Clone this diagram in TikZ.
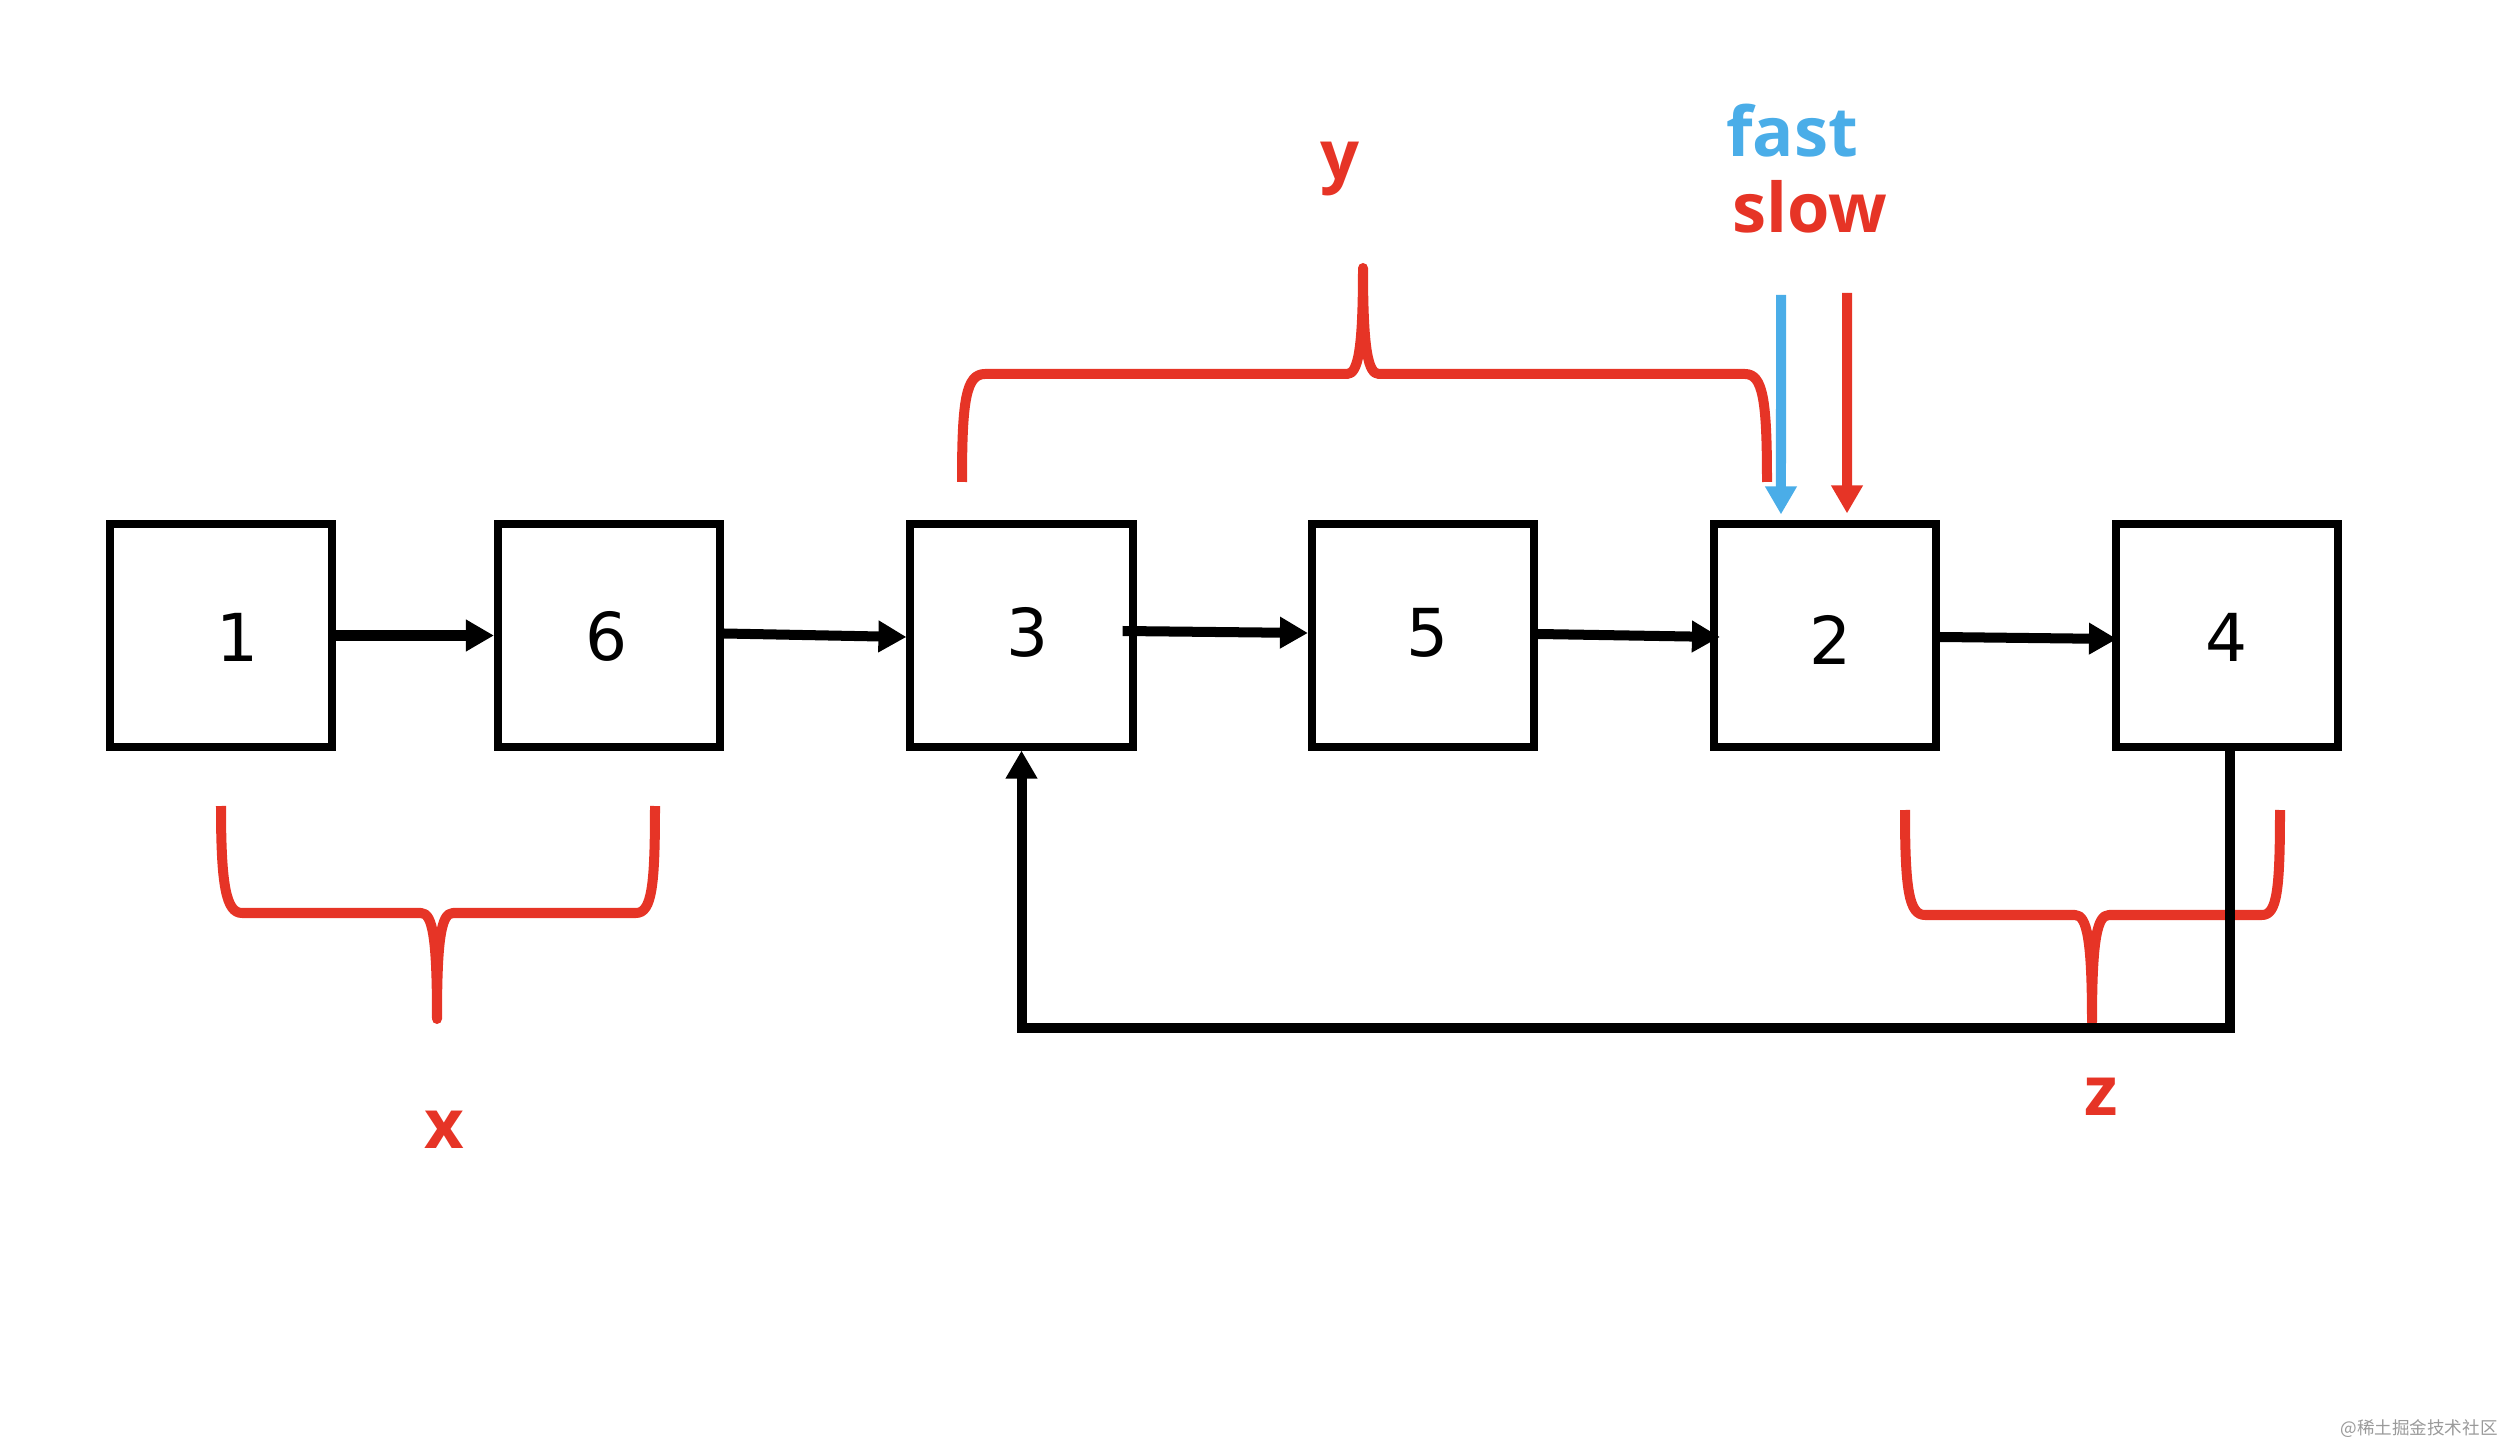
\documentclass[tikz,border=0pt]{standalone}
\usepackage{fontspec}
\setmainfont{DejaVu Sans}
\newfontfamily\labfont{Open Sans}[BoldFont={Open Sans Bold}]
\newfontfamily\cjkfont{Noto Sans CJK SC}
\usetikzlibrary{arrows.meta}
\definecolor{bred}{HTML}{E63426}
\definecolor{bblue}{HTML}{4AADE8}
\definecolor{wmgray}{HTML}{9A9A9A}
\begin{document}
\begin{tikzpicture}[x=0.01cm,y=-0.01cm,
  listbox/.style={draw=black, line width=0.08cm, minimum width=2.22cm, minimum height=2.22cm, inner sep=0pt},
  digit/.style={font=\fontsize{18.8}{20}\selectfont, inner sep=0pt},
  arr/.style={line width=0.1cm, -{Triangle[length=0.28cm,width=0.30cm]}},
  brace/.style={draw=bred, line width=0.1cm, line cap=butt, line join=round},
  lab/.style={font=\labfont\bfseries\fontsize{19.5}{21}\selectfont, inner sep=0pt, anchor=base}
]
\useasboundingbox (0,0) rectangle (2505,1446);

% boxes
\node[listbox] (b1) at (221,635.5) {};
\node[listbox] (b6) at (609,635.5) {};
\node[listbox] (b3) at (1021.5,635.5) {};
\node[listbox] (b5) at (1423,635.5) {};
\node[listbox] (b2) at (1825,635.5) {};
\node[listbox] (b4) at (2227,635.5) {};

% digits
\node[digit] (t1) at (238,637) {1};
\node[digit] (t6) at (607,636) {6};
\node[digit] (t3) at (1028,632) {3};
\node[digit] (t5) at (1428,633) {5};
\node[digit] (t2) at (1831,640) {2};
\node[digit] (t4) at (2227,637) {4};

% braces
\draw[brace] (221,806) .. controls (221,885) and (226,913) .. (242,913)
  -- (421,913) .. controls (433,913) and (437,940) .. (437,1019)
  .. controls (437,940) and (441,913) .. (453,913)
  -- (636,913) .. controls (652,913) and (655,885) .. (655,806);
\draw[brace] (962,482) .. controls (962,400) and (966,374) .. (985,374)
  -- (1347,374) .. controls (1358,374) and (1363,350) .. (1363,268)
  .. controls (1363,350) and (1368,374) .. (1379,374)
  -- (1745,374) .. controls (1763,374) and (1767,400) .. (1767,482);
\draw[brace] (1905,810) .. controls (1905,890) and (1909,915) .. (1925,915)
  -- (2075,915) .. controls (2087,915) and (2092,940) .. (2092,1022)
  .. controls (2092,940) and (2097,915) .. (2109,915)
  -- (2262,915) .. controls (2277,915) and (2280,890) .. (2280,810);

% list arrows
\draw[arr] (b1.east) -- (b6.west);
\draw[arr] ([yshift=0.02cm]b6.east) -- ([yshift=-0.015cm]b3.west);
\draw[arr] ([xshift=-0.14cm,yshift=0.045cm]b3.east) -- ([yshift=0.025cm]b5.west);
\draw[arr] ([yshift=0.015cm]b5.east) -- ([xshift=0.1cm,yshift=-0.015cm]b2.west);
\draw[arr] ([yshift=-0.015cm]b2.east) -- ([xshift=0.05cm,yshift=-0.035cm]b4.west);

% feedback loop
\coordinate (fb) at (0,1028);
\draw[arr, line join=miter] ([xshift=0.03cm]b4.south) -- ([xshift=0.03cm]b4.south |- fb) -| (b3.south);

% pointers
\coordinate (fastA) at (1781,295);
\coordinate (slowA) at (1847,293);
\draw[arr, draw=bblue, fill=bblue] (fastA) -- ([xshift=-0.44cm,yshift=0.06cm]b2.north);
\draw[arr, draw=bred, fill=bred] (slowA) -- ([xshift=0.22cm,yshift=0.07cm]b2.north);

% labels
\node[lab, text=bblue] (lfast) at (1792,157) {fast};
\node[lab, text=bred] (lslow) at (1810,233) {slow};
\node[lab, text=bred] (ly) at (1340,180) {y};
\node[lab, text=bred] (lx) at (444,1148) {x};
\node[lab, text=bred] (lz) at (2101,1115) {z};

% watermark
\node[font=\cjkfont\fontsize{5}{6}\selectfont, text=wmgray, inner sep=0pt] (wm) at (2419,1429) {@稀土掘金技术社区};
\end{tikzpicture}
\end{document}
